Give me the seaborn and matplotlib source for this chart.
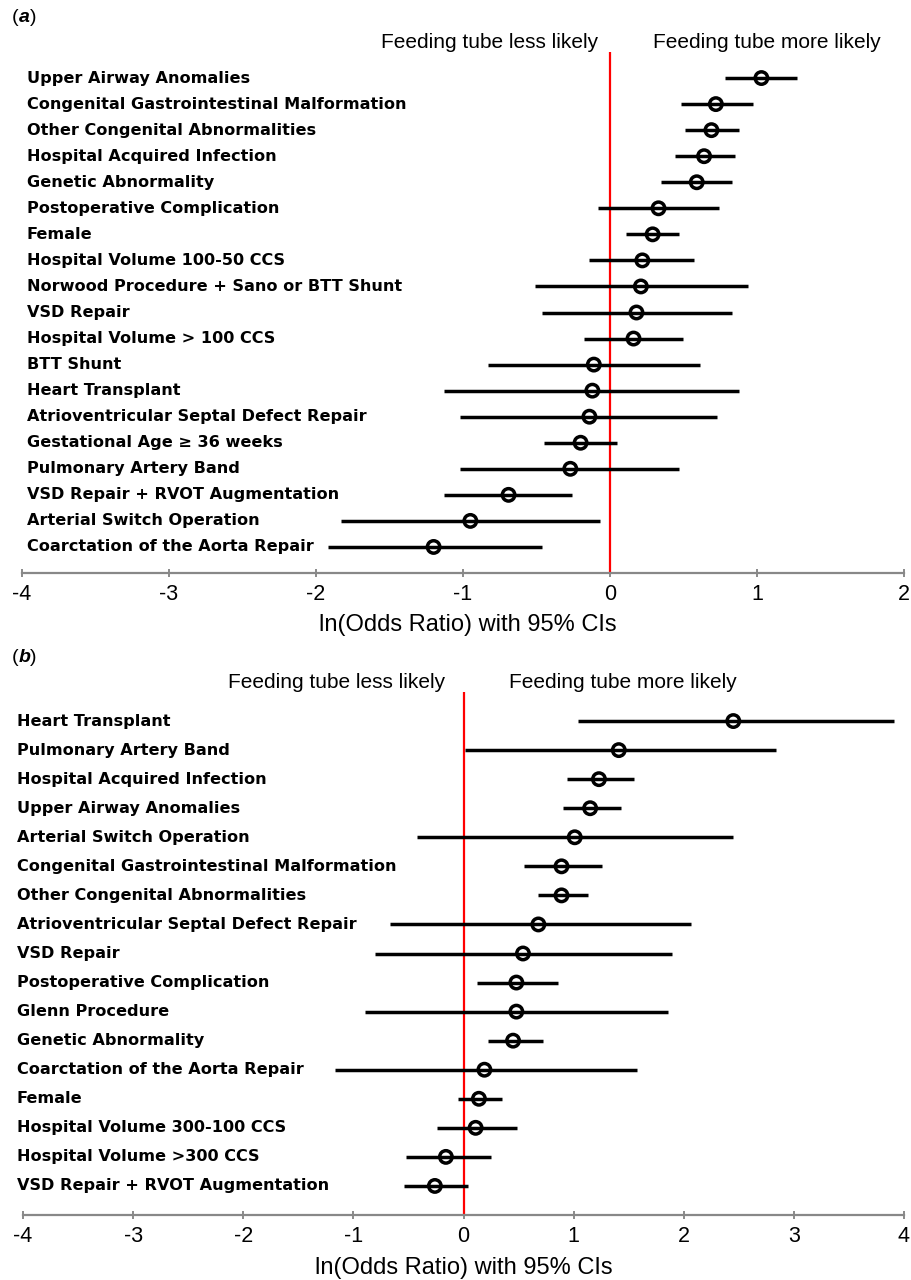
import numpy as np
import pandas as pd
import matplotlib
matplotlib.use("Agg")
import matplotlib.pyplot as plt
import matplotlib.transforms as mtransforms
import seaborn as sns

# Panel (a) data
labels_a = ["Upper Airway Anomalies", "Congenital Gastrointestinal Malformation",
            "Other Congenital Abnormalities", "Hospital Acquired Infection",
            "Genetic Abnormality", "Postoperative Complication", "Female",
            "Hospital Volume 100-50 CCS", "Norwood Procedure + Sano or BTT Shunt",
            "VSD Repair", "Hospital Volume > 100 CCS", "BTT Shunt", "Heart Transplant",
            "Atrioventricular Septal Defect Repair", "Gestational Age \u2265 36 weeks",
            "Pulmonary Artery Band", "VSD Repair + RVOT Augmentation",
            "Arterial Switch Operation", "Coarctation of the Aorta Repair"]
est_a = [1.03, 0.72, 0.69, 0.64, 0.59, 0.33, 0.29, 0.22, 0.21, 0.18, 0.16,
         -0.11, -0.12, -0.14, -0.20, -0.27, -0.69, -0.95, -1.20]
lo_a = [0.78, 0.48, 0.51, 0.44, 0.35, -0.08, 0.11, -0.14, -0.51, -0.46, -0.18,
        -0.83, -1.13, -1.02, -0.45, -1.02, -1.13, -1.83, -1.92]
hi_a = [1.27, 0.97, 0.88, 0.85, 0.83, 0.74, 0.47, 0.57, 0.94, 0.83, 0.50,
        0.61, 0.88, 0.73, 0.05, 0.47, -0.26, -0.07, -0.46]
ticks_a = [-4, -3, -2, -1, 0, 1, 2]

# Panel (b) data
labels_b = ["Heart Transplant", "Pulmonary Artery Band", "Hospital Acquired Infection",
            "Upper Airway Anomalies", "Arterial Switch Operation",
            "Congenital Gastrointestinal Malformation", "Other Congenital Abnormalities",
            "Atrioventricular Septal Defect Repair", "VSD Repair",
            "Postoperative Complication", "Glenn Procedure", "Genetic Abnormality",
            "Coarctation of the Aorta Repair", "Female", "Hospital Volume 300-100 CCS",
            "Hospital Volume >300 CCS", "VSD Repair + RVOT Augmentation"]
est_b = [2.45, 1.41, 1.23, 1.15, 1.01, 0.89, 0.89, 0.68, 0.54, 0.48, 0.48, 0.45,
         0.19, 0.14, 0.11, -0.16, -0.26]
lo_b = [1.04, 0.01, 0.94, 0.90, -0.42, 0.55, 0.68, -0.67, -0.80, 0.12, -0.89, 0.22,
        -1.17, -0.05, -0.24, -0.52, -0.54]
hi_b = [3.91, 2.84, 1.55, 1.43, 2.45, 1.26, 1.13, 2.07, 1.89, 0.86, 1.86, 0.72,
        1.58, 0.35, 0.49, 0.25, 0.04]
ticks_b = [-4, -3, -2, -1, 0, 1, 2, 3, 4]

sns.set_theme(style="white")
plt.rcParams['font.family'] = ['Liberation Sans', 'DejaVu Sans']
plt.rcParams['text.color'] = 'black'
plt.rcParams['axes.labelcolor'] = 'black'
plt.rcParams['xtick.labelcolor'] = 'black'

W, H = 912, 1280
fig = plt.figure(figsize=(W / 100, H / 100), dpi=100)


def px_rect(x0, x1, ytop, ybot):
    return [x0 / W, 1 - ybot / H, (x1 - x0) / W, (ybot - ytop) / H]


def forest(ax, labels, est, lo, hi, ticks, label_x):
    n = len(labels)
    df = pd.DataFrame({"row": np.arange(n), "est": est, "lo": lo, "hi": hi})
    ax.axvline(0, color="#ff0000", lw=1.6, zorder=1)
    ax.hlines(df["row"], df["lo"], df["hi"], color="black", lw=2.5, zorder=2)
    sns.scatterplot(data=df, x="est", y="row", ax=ax, marker="o", s=80,
                    facecolor="none", edgecolor="black", linewidth=2.5, zorder=3)
    ax.set_xlim(ticks[0], ticks[-1])
    ax.set_ylim(n, -1)
    ax.set_yticks([])
    ax.set_ylabel("")
    ax.set_xticks(ticks)
    ax.set_xticklabels([str(t) for t in ticks])
    ax.tick_params(axis="x", labelsize=15.5, direction="inout", length=6,
                   width=1.2, color="#777777", labelcolor="black", pad=5, bottom=True)
    for s in ["top", "right", "left"]:
        ax.spines[s].set_visible(False)
    ax.spines["bottom"].set_color("#888888")
    ax.spines["bottom"].set_linewidth(1.6)
    ax.set_xlabel("ln(Odds Ratio) with 95% CIs", fontsize=17, color="black")
    trans = mtransforms.blended_transform_factory(ax.transAxes, ax.transData)
    for i, lab in enumerate(labels):
        ax.text(label_x, i, lab, transform=trans, ha="left", va="center",
                fontsize=11.6, fontweight="bold", family="DejaVu Sans",
                color="black", clip_on=False)


ax_a = fig.add_axes(px_rect(22, 904, 52, 573))
forest(ax_a, labels_a, est_a, lo_a, hi_a, ticks_a, (27 - 22) / 882)
ax_a.xaxis.set_label_coords(0.505, (573 - 625) / 521)
ax_a.xaxis.label.set_va("center")

ax_b = fig.add_axes(px_rect(23, 904, 692, 1215))
forest(ax_b, labels_b, est_b, lo_b, hi_b, ticks_b, (17 - 23) / 881)
ax_b.xaxis.set_label_coords(0.5, (1215 - 1268) / 523)
ax_b.xaxis.label.set_va("center")

# direction headers
hdr = dict(fontsize=15, va="center", color="black")
fig.text(598 / W, 1 - 43 / H, "Feeding tube less likely", ha="right", **hdr)
fig.text(653 / W, 1 - 43 / H, "Feeding tube more likely", ha="left", **hdr)
fig.text(445 / W, 1 - 682 / H, "Feeding tube less likely", ha="right", **hdr)
fig.text(509 / W, 1 - 682 / H, "Feeding tube more likely", ha="left", **hdr)

# panel letters
for letter, yc in [("a", 17), ("b", 657)]:
    fig.text(12 / W, 1 - yc / H, "(", fontsize=14, va="center")
    fig.text(18.5 / W, 1 - yc / H, letter, fontsize=14, va="center",
             fontweight="bold", fontstyle="italic")
    fig.text(29.5 / W, 1 - yc / H, ")", fontsize=14, va="center")

fig.savefig("out.png", dpi=100)
